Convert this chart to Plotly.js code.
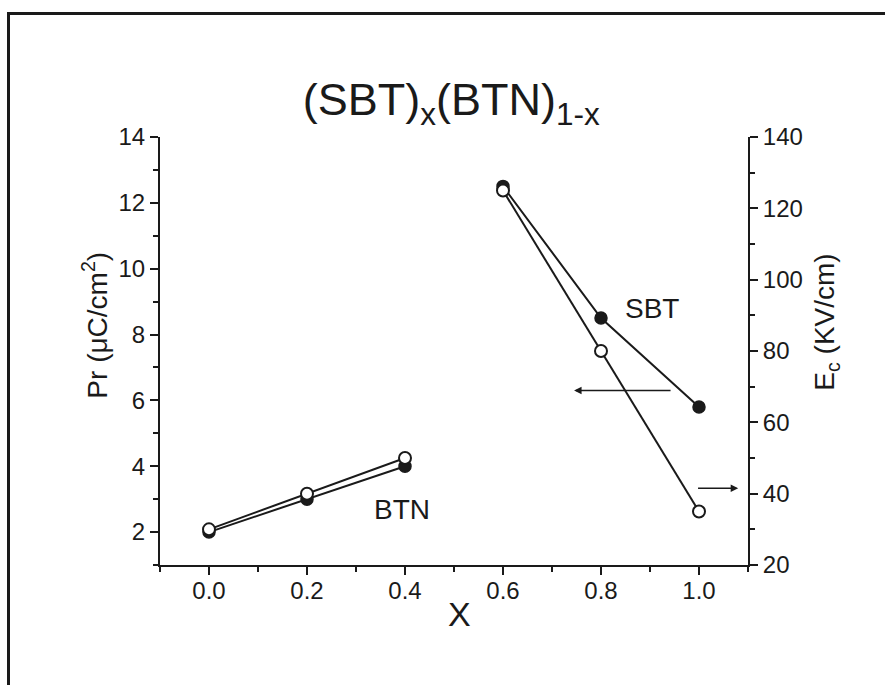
<!DOCTYPE html>
<html>
<head>
<meta charset="utf-8">
<script src="https://cdn.plot.ly/plotly-3.0.1.min.js"></script>
<style>
  html, body { margin: 0; padding: 0; background: #fff; }
  #chart { width: 885px; height: 685px; }
  #frame { position: absolute; left: 7px; top: 12px; width: 900px; height: 700px;
           border-left: 3px solid #1a1a1a; border-top: 3px solid #1a1a1a; pointer-events: none; }
</style>
</head>
<body>
<div id="chart"></div>
<div id="frame"></div>
<script>
// Composition x
const xBTN = [0.0, 0.2, 0.4];
const xSBT = [0.6, 0.8, 1.0];
// Remanent polarization Pr (µC/cm²), left axis (filled circles)
const prBTN = [2.0, 3.0, 4.0];
const prSBT = [12.5, 8.5, 5.8];
// Coercive field Ec (kV/cm), right axis (open circles)
const ecBTN = [30, 40, 50];
const ecSBT = [125, 80, 35];
// Tick labels
const xTicks = [0.0, 0.2, 0.4, 0.6, 0.8, 1.0];
const xTickText = ["0.0", "0.2", "0.4", "0.6", "0.8", "1.0"];
const prTicks = [2, 4, 6, 8, 10, 12, 14];
const ecTicks = [20, 40, 60, 80, 100, 120, 140];

const ink = '#1a1a1a';
const font = 'Liberation Sans, Arial, sans-serif';

const filled = {color: ink, size: 12, line: {color: ink, width: 1.5}};
const open = {color: '#ffffff', size: 12, line: {color: ink, width: 2}};
const ln = {color: ink, width: 2};

const traces = [
  {x: xBTN, y: prBTN, mode: 'lines+markers', marker: filled, line: ln, yaxis: 'y', showlegend: false},
  {x: xSBT, y: prSBT, mode: 'lines+markers', marker: filled, line: ln, yaxis: 'y', showlegend: false},
  {x: xBTN, y: ecBTN, mode: 'lines+markers', marker: open, line: ln, yaxis: 'y2', showlegend: false},
  {x: xSBT, y: ecSBT, mode: 'lines+markers', marker: open, line: ln, yaxis: 'y2', showlegend: false}
];

const axisCommon = {
  showgrid: false, zeroline: false, showline: true, linecolor: ink, linewidth: 2,
  ticks: 'outside', ticklen: 8, tickwidth: 2, tickcolor: ink,
  tickfont: {family: font, size: 24, color: ink}
};

const layout = {
  width: 885, height: 685,
  margin: {l: 160, r: 137, t: 137, b: 120},
  paper_bgcolor: '#ffffff', plot_bgcolor: '#ffffff',
  font: {family: font, color: ink},
  title: {text: '(SBT)<sub>x</sub>(BTN)<sub>1-x</sub>', font: {family: font, size: 45, color: ink},
          x: 0.51, xanchor: 'center', y: 0.855, yanchor: 'middle'},
  xaxis: Object.assign({}, axisCommon, {
    range: [-0.1, 1.1], tickvals: xTicks, ticktext: xTickText, ticklabelstandoff: -5,
    minor: {dtick: 0.1, tick0: 0, ticks: 'outside', ticklen: 5, tickwidth: 2, tickcolor: ink}
  }),
  yaxis: Object.assign({}, axisCommon, {
    range: [1, 14], tickvals: prTicks,
    minor: {dtick: 1, tick0: 0, ticks: 'outside', ticklen: 5, tickwidth: 2, tickcolor: ink}
  }),
  yaxis2: Object.assign({}, axisCommon, {
    range: [20, 140], tickvals: ecTicks, overlaying: 'y', side: 'right',
    minor: {dtick: 10, tick0: 0, ticks: 'outside', ticklen: 5, tickwidth: 2, tickcolor: ink}
  }),
  annotations: [
    {x: 0.51, y: -0.115, xref: 'paper', yref: 'paper', text: 'X', showarrow: false,
     xanchor: 'center', yanchor: 'middle', font: {family: font, size: 34, color: ink}},
    {x: -0.11, y: 0.56, xref: 'paper', yref: 'paper', text: 'Pr (μC/cm<sup>2</sup>)', showarrow: false,
     textangle: -90, xanchor: 'center', yanchor: 'middle', font: {family: font, size: 28, color: ink}},
    {x: 1.134, y: 0.568, xref: 'paper', yref: 'paper', text: 'E<sub>c</sub> (KV/cm)', showarrow: false,
     textangle: -90, xanchor: 'center', yanchor: 'middle', font: {family: font, size: 28, color: ink}},
    {x: 0.905, y: 8.8, xref: 'x', yref: 'y', text: 'SBT', showarrow: false,
     font: {family: font, size: 28, color: ink}},
    {x: 0.394, y: 2.7, xref: 'x', yref: 'y', text: 'BTN', showarrow: false,
     font: {family: font, size: 28, color: ink}},
    {x: 0.745, y: 6.3, xref: 'x', yref: 'y', ax: 0.945, ay: 6.3, axref: 'x', ayref: 'y',
     text: '', showarrow: true, arrowhead: 2, arrowsize: 1, arrowwidth: 1.5, arrowcolor: ink},
    {x: 1.08, y: 41.5, xref: 'x', yref: 'y2', ax: 0.995, ay: 41.5, axref: 'x', ayref: 'y2',
     text: '', showarrow: true, arrowhead: 2, arrowsize: 1, arrowwidth: 1.5, arrowcolor: ink}
  ]
};

Plotly.newPlot('chart', traces, layout, {displayModeBar: false, staticPlot: true});
</script>
</body>
</html>
